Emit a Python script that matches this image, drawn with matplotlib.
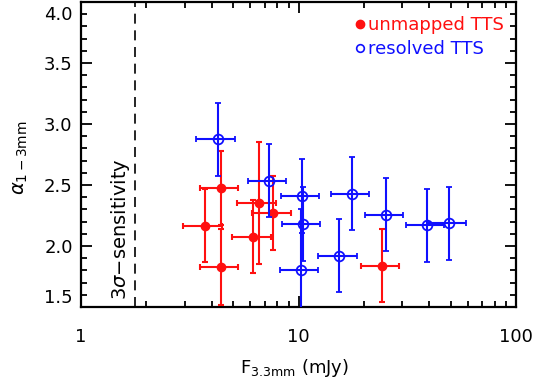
import matplotlib
matplotlib.use('Agg')
import matplotlib.pyplot as plt
from matplotlib.lines import Line2D
from matplotlib.ticker import MultipleLocator, LogLocator, FixedLocator, FixedFormatter, NullFormatter
from matplotlib.transforms import ScaledTranslation

# ---- data ----
unm_flux = [4.40, 4.40, 3.70, 6.55, 6.20, 7.65, 24.25]
unm_flux_err = [0.88, 0.88, 0.75, 1.33, 1.25, 1.55, 4.80]
unm_alpha = [2.475, 1.83, 2.165, 2.355, 2.075, 2.27, 1.84]
unm_alpha_err = [0.30, 0.31, 0.30, 0.50, 0.30, 0.30, 0.30]

res_flux = [4.25, 7.30, 10.38, 10.46, 10.27, 17.6, 15.4, 25.25, 38.9, 49.2]
res_flux_err = [0.86, 1.46, 2.08, 2.10, 2.07, 3.55, 3.10, 5.05, 7.80, 9.80]
res_alpha = [2.875, 2.535, 2.41, 2.18, 1.80, 2.43, 1.92, 2.255, 2.17, 2.185]
res_alpha_err = [0.30, 0.30, 0.30, 0.30, 0.50, 0.30, 0.30, 0.30, 0.30, 0.30]

sensitivity = 1.78

x_ticks = [1, 10, 100]
x_tick_labels = ['1', '10', '100']
y_ticks = [1.5, 2.0, 2.5, 3.0, 3.5, 4.0]
y_tick_labels = ['1.5', '2.0', '2.5', '3.0', '3.5', '4.0']

RED = '#ff1010'
BLUE = '#1010ff'

fig = plt.figure(figsize=(5.39, 3.83), dpi=100)
ax = fig.add_axes([81/539, 1-307/383, 435/539, 305/383])

ax.set_xscale('log')
ax.set_xlim(1, 100)
ax.set_ylim(1.5, 4.0)

ax.errorbar(unm_flux, unm_alpha, xerr=unm_flux_err, yerr=unm_alpha_err,
            fmt='o', color=RED, ecolor=RED, ms=6, mfc=RED, mec=RED,
            elinewidth=1.5, capsize=2.5, capthick=1.5, zorder=3)
ax.errorbar(res_flux, res_alpha, xerr=res_flux_err, yerr=res_alpha_err,
            fmt='o', color=BLUE, ecolor=BLUE, ms=7, mfc='none', mec=BLUE, mew=1.3,
            elinewidth=1.5, capsize=2.5, capthick=1.5, zorder=4)

ax.axvline(sensitivity, color='black', lw=1.2, ls=(0, (6, 4)), zorder=2)
ax.text(0.0913, 0.255, r'3$\sigma$$-$sensitivity', transform=ax.transAxes,
        rotation=90, ha='center', va='center', fontsize=14)

# ticks
ax.xaxis.set_major_locator(FixedLocator(x_ticks))
ax.xaxis.set_major_formatter(FixedFormatter(x_tick_labels))
ax.xaxis.set_minor_locator(LogLocator(base=10, subs=range(2, 10)))
ax.xaxis.set_minor_formatter(NullFormatter())
ax.yaxis.set_major_locator(FixedLocator(y_ticks))
ax.yaxis.set_major_formatter(FixedFormatter(y_tick_labels))
ax.yaxis.set_minor_locator(MultipleLocator(0.1))

ax.tick_params(which='both', direction='in', top=True, right=True, width=1.3,
               labelsize=13)
ax.tick_params(which='major', length=8)
ax.tick_params(which='minor', length=4.5)
ax.tick_params(axis='x', which='major', pad=15)
ax.tick_params(axis='y', which='major', pad=6)
for s in ax.spines.values():
    s.set_linewidth(1.6)

fig.canvas.draw()
ylabels = ax.get_yticklabels()
ylabels[0].set_va('bottom')
ylabels[-1].set_va('top')
ylabels[-1].set_transform(ylabels[-1].get_transform() +
                          ScaledTranslation(0, -3/72, fig.dpi_scale_trans))

ax.set_xlabel(r'F$_{\mathrm{3.3mm}}$ (mJy)', fontsize=13)
ax.xaxis.label.set_va('center')
ax.xaxis.set_label_coords(0.49, -0.2)
ax.set_ylabel(r'$\alpha_{\mathrm{1-3mm}}$', fontsize=14)
ax.yaxis.label.set_va('center')
ax.yaxis.set_label_coords(-0.14, 0.49)

handles = [Line2D([], [], ls='none', marker='o', ms=6, color=RED, mfc=RED, mec=RED),
           Line2D([], [], ls='none', marker='o', ms=5.5, color=BLUE, mfc='none', mec=BLUE, mew=1.2)]
leg = ax.legend(handles, ['unmapped TTS', 'resolved TTS'], loc='upper left',
                bbox_to_anchor=(0.628, 0.953), frameon=False, fontsize=13,
                handlelength=0.6, handletextpad=0.15, labelspacing=0.32,
                borderpad=0, borderaxespad=0, labelcolor='markeredgecolor')

fig.savefig('out.png', dpi=100)
